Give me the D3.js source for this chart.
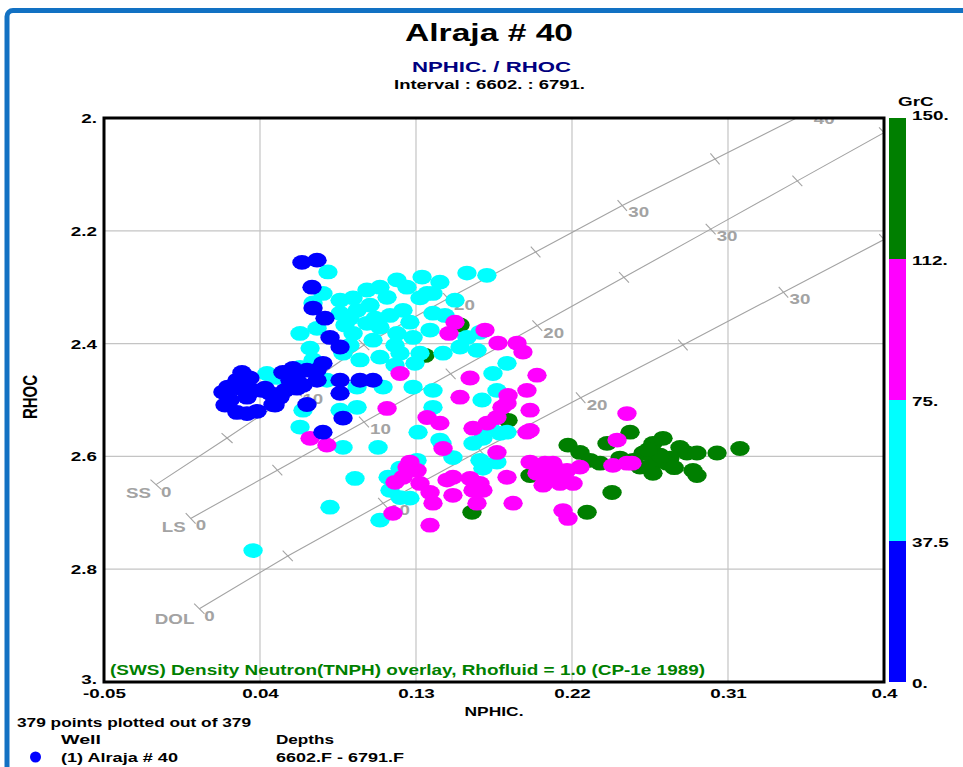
<!DOCTYPE html>
<html>
<head>
<meta charset="utf-8">
<script src="https://cdn.jsdelivr.net/npm/d3@7"></script>
<style>
  body { margin: 0; background: #fff; }
  svg { display: block; }
</style>
</head>
<body>
<svg id="chart" width="963" height="767"></svg>
<script>
// ---- Axis ticks ----
const xTicks = [-0.05, 0.04, 0.13, 0.22, 0.31, 0.4];
const xTickLabels = ["-0.05", "0.04", "0.13", "0.22", "0.31", "0.4"];
const yTicks = [2, 2.2, 2.4, 2.6, 2.8, 3];
const yTickLabels = ["2.", "2.2", "2.4", "2.6", "2.8", "3."];
const grTicks = [0, 37.5, 75, 112.5, 150];
const grTickLabels = ["0.", "37.5", "75.", "112.", "150."];
const grClasses = [[0, 37.5], [37.5, 75], [75, 112.5], [112.5, 150]];

// ---- Lithology overlay (CP-1e): porosity steps, neutron and density per matrix ----
const overlayPor = [0, 5, 10, 15, 20, 25, 30, 35, 40];
const ssNphi  = [-0.02, 0.021, 0.061, 0.100, 0.1485, 0.199, 0.249, 0.3025, 0.356];
const ssRho   = [2.65, 2.5675, 2.485, 2.4025, 2.32, 2.2375, 2.155, 2.0725, 1.99];
const lsNphi  = [0.0, 0.05, 0.10, 0.15, 0.20, 0.25, 0.30, 0.35, 0.40];
const lsRho   = [2.71, 2.6245, 2.539, 2.4535, 2.368, 2.2825, 2.197, 2.1115, 2.026];
const dolNphi = [0.005, 0.056, 0.111, 0.167, 0.225, 0.284, 0.342, 0.400];
const dolRho  = [2.87, 2.7765, 2.683, 2.5895, 2.496, 2.4025, 2.309, 2.2155];

// ---- Samples [NPHIC, RHOC, GrC], grouped by gamma-ray class ----
const ptsHighGr = [
  [0.1554,2.367,121],[0.1352,2.421,118],[0.1831,2.536,124],[0.2177,2.580,130],[0.1623,2.699,119],
  [0.1958,2.634,122],[0.2246,2.593,131],[0.2304,2.607,127],[0.2287,2.699,120],[0.2535,2.557,126],
  [0.2402,2.577,133],[0.2552,2.607,129],[0.2667,2.577,135],[0.2725,2.568,138],[0.2667,2.612,132],
  [0.2667,2.630,128],[0.2823,2.584,140],[0.2863,2.594,137],[0.2921,2.594,134],[0.2765,2.603,139],
  [0.2898,2.625,136],[0.2921,2.634,131],[0.3037,2.594,142],[0.3169,2.586,145],[0.2610,2.594,127],
  [0.2748,2.612,133],[0.2362,2.612,125],[0.2431,2.664,123],[0.2477,2.603,128],[0.2708,2.598,136],
  [0.2592,2.619,130],[0.2640,2.588,134],[0.2790,2.620,137]
];
const ptsMidLowGr = [
  [0.0792,2.273,44],[0.0763,2.311,48],[0.0706,2.328,40],[0.0862,2.323,52],[0.0937,2.319,55],
  [0.1017,2.305,58],[0.1092,2.300,50],[0.1190,2.287,47],[0.1248,2.300,53],[0.1335,2.282,60],
  [0.1438,2.291,62],[0.1594,2.275,57],[0.1709,2.279,64],[0.1133,2.318,49],[0.1225,2.341,55],
  [0.1323,2.319,61],[0.1398,2.311,63],[0.0960,2.341,51],[0.0862,2.346,46],[0.0729,2.373,42],
  [0.0631,2.382,41],[0.0689,2.408,43],[0.0937,2.382,52],[0.1017,2.364,54],[0.1092,2.371,56],
  [0.1190,2.382,58],[0.1283,2.389,60],[0.1381,2.376,62],[0.1398,2.346,65],[0.1594,2.389,68],
  [0.1669,2.380,70],[0.1652,2.412,69],[0.1554,2.406,66],[0.1456,2.417,64],[0.1323,2.417,59],
  [0.1208,2.417,57],[0.1092,2.424,53],[0.0977,2.429,50],[0.0879,2.417,47],[0.0706,2.429,43],
  [0.0631,2.442,40],[0.0440,2.453,39],[0.0498,2.460,41],[0.0786,2.465,45],[0.0960,2.477,49],
  [0.1110,2.477,55],[0.1283,2.477,61],[0.1398,2.483,63],[0.1681,2.500,70],[0.1767,2.483,72],
  [0.0648,2.518,44],[0.0631,2.548,46],[0.0879,2.584,58],[0.1081,2.584,60],[0.0862,2.518,48],
  [0.0960,2.513,51],[0.0948,2.639,62],[0.0804,2.690,66],[0.1092,2.713,68],[0.0360,2.767,55],
  [0.1398,2.513,64],[0.1727,2.548,71],[0.1744,2.453,70],[0.1825,2.435,73],[0.1364,2.311,58],
  [0.1450,2.577,67],[0.1629,2.577,69],[0.1825,2.557,72],[0.1312,2.557,63],[0.1438,2.571,66],
  [0.1513,2.602,70],[0.1686,2.568,71],[0.1669,2.607,72],[0.1767,2.610,73],[0.1686,2.621,74],
  [0.1306,2.607,65],[0.1208,2.621,62],[0.1150,2.660,64],[0.1208,2.673,67],[0.1265,2.674,66],
  [0.1139,2.637,63],[0.1785,2.559,72],[0.0919,2.355,50],[0.1052,2.394,53],[0.1150,2.350,52],
  [0.1265,2.362,56],[0.1035,2.332,54],[0.0890,2.367,49],[0.1179,2.403,57],[0.1064,2.355,53],
  [0.0919,2.403,51],[0.1525,2.323,63],[0.1467,2.350,64],[0.1294,2.435,60],[0.1179,2.438,58]
];
const ptsMidHighGr = [
  [0.1525,2.362,96],[0.1490,2.382,92],[0.1698,2.376,98],[0.1773,2.399,101],[0.1883,2.399,104],
  [0.1917,2.415,99],[0.1612,2.461,88],[0.1998,2.456,103],[0.1940,2.483,97],[0.1831,2.492,95],
  [0.1554,2.495,86],[0.1958,2.518,100],[0.1796,2.513,94],[0.1767,2.531,93],[0.1940,2.557,102],
  [0.1629,2.550,90],[0.1438,2.541,84],[0.1364,2.531,82],[0.1208,2.453,80],[0.1133,2.515,79],
  [0.0689,2.568,78],[0.0786,2.580,81],[0.1710,2.541,91],[0.1825,2.506,96],[0.1456,2.586,87],
  [0.1767,2.593,95],[0.1265,2.610,83],[0.1248,2.619,85],[0.1306,2.625,86],[0.1179,2.646,82],
  [0.1225,2.637,84],[0.1323,2.648,88],[0.1381,2.664,89],[0.1513,2.637,92],[0.1479,2.642,90],
  [0.1612,2.639,94],[0.1669,2.648,97],[0.1629,2.660,93],[0.1686,2.660,96],[0.1825,2.637,99],
  [0.1513,2.669,91],[0.1652,2.683,95],[0.1398,2.683,88],[0.1167,2.701,85],[0.1381,2.722,87],
  [0.1860,2.683,100],[0.2015,2.630,104],[0.2090,2.612,106],[0.2148,2.642,105],[0.2206,2.648,108],
  [0.2056,2.642,103],[0.2148,2.696,101],[0.2177,2.710,99],[0.2517,2.524,107],[0.2460,2.571,109],
  [0.2517,2.612,110],[0.2436,2.616,108],[0.1998,2.630,102],[0.2090,2.637,104],[0.2033,2.651,101],
  [0.2131,2.648,106],[0.2171,2.625,107],[0.2246,2.619,109],[0.2546,2.612,111],[0.1958,2.554,98],
  [0.1958,2.610,103],[0.2044,2.612,105],[0.2113,2.625,106]
];
const ptsLowGr = [
  [0.0296,2.451,28],[0.0267,2.465,24],[0.0186,2.486,22],[0.0285,2.479,26],[0.0360,2.483,25],
  [0.0429,2.479,27],[0.0198,2.509,21],[0.0267,2.522,23],[0.0325,2.524,25],[0.0383,2.520,27],
  [0.0475,2.508,29],[0.0227,2.500,20],[0.0325,2.495,24],[0.0411,2.483,30],[0.0458,2.488,31],
  [0.0544,2.483,32],[0.0613,2.479,33],[0.0590,2.444,30],[0.0671,2.447,31],[0.0729,2.447,29],
  [0.0532,2.451,34],[0.0648,2.474,32],[0.0729,2.465,30],[0.0862,2.465,33],[0.0977,2.465,35],
  [0.1052,2.465,34],[0.0862,2.488,31],[0.0671,2.508,28],[0.0879,2.532,33],[0.0763,2.557,35],
  [0.0642,2.256,26],[0.0729,2.252,27],[0.0700,2.300,30],[0.0706,2.337,32],[0.0775,2.355,34],
  [0.0804,2.389,33],[0.0862,2.406,35],[0.0763,2.435,32],[0.0613,2.465,31],[0.0487,2.509,29],
  [0.0342,2.461,23],[0.0215,2.477,21],[0.0515,2.495,30],[0.0573,2.465,29]
];

// ---- Layout ----
const plot = { left: 104, top: 118, right: 884, bottom: 682 };
const SX = 1.45;          // horizontal widening of label glyphs
const MX = 1.3;           // horizontal widening of markers / overlay ticks
const FONT = "'Liberation Sans', Arial, sans-serif";

const x = d3.scaleLinear().domain([-0.05, 0.4]).range([plot.left, plot.right]);
const y = d3.scaleLinear().domain([2, 3]).range([plot.top, plot.bottom]);
const grBar = d3.scaleLinear().domain([0, 150]).range([plot.bottom, plot.top]);
const grColor = d3.scaleThreshold()
  .domain([37.5, 75, 112.5])
  .range(["#0000ff", "#00ffff", "#ff00ff", "#007f00"]);

const svg = d3.select("#chart");
svg.append("rect").attr("width", 963).attr("height", 767).attr("fill", "#fff");

// Window frame
svg.append("rect")
  .attr("x", 7).attr("y", 10.5).attr("width", 1000).attr("height", 800).attr("rx", 6)
  .attr("fill", "none").attr("stroke", "#1271c3").attr("stroke-width", 5);

function addText(parent, x0, y0, str, size, opts = {}) {
  const t = parent.append("text")
    .attr("x", x0).attr("y", y0)
    .attr("text-anchor", opts.anchor || "start")
    .attr("fill", opts.fill || "#000")
    .style("font-family", FONT).style("font-weight", "bold")
    .style("font-size", size + "px")
    .text(str);
  if (opts.len) t.attr("textLength", opts.len).attr("lengthAdjust", "spacingAndGlyphs");
  return t;
}

// Titles
addText(svg, 405, 41, "Alraja # 40", 23, { len: 168 });
addText(svg, 412, 72, "NPHIC. / RHOC", 15, { len: 159, fill: "#000080" });
addText(svg, 394, 89, "Interval : 6602. : 6791.", 13, { len: 191 });

// Grid
const grid = svg.append("g").attr("stroke", "#c4c4c4").attr("stroke-width", 1.2);
xTicks.slice(1, -1).forEach(v => {
  grid.append("line").attr("x1", x(v)).attr("x2", x(v)).attr("y1", plot.top).attr("y2", plot.bottom);
});
yTicks.slice(1, -1).forEach(v => {
  grid.append("line").attr("x1", plot.left).attr("x2", plot.right).attr("y1", y(v)).attr("y2", y(v));
});

// Lithology overlay lines, clipped to the plot
svg.append("clipPath").attr("id", "plotClip")
  .append("rect").attr("x", plot.left).attr("y", plot.top)
  .attr("width", plot.right - plot.left).attr("height", plot.bottom - plot.top);
const ov = svg.append("g").attr("clip-path", "url(#plotClip)");
const overlays = [
  { name: "SS",  n: ssNphi,  r: ssRho,  nameDy: 13 },
  { name: "LS",  n: lsNphi,  r: lsRho,  nameDy: 14 },
  { name: "DOL", n: dolNphi, r: dolRho, nameDy: 15 }
];
const ovColor = "#a3a3a3";
const ovFont = `bold 15px ${FONT}`;
overlays.forEach(L => {
  const pts = L.n.map((v, i) => [x(v), y(L.r[i])]);
  ov.append("path").attr("d", d3.line()(pts))
    .attr("fill", "none").attr("stroke", ovColor).attr("stroke-width", 1.1);
  pts.forEach((p, i) => {
    const a = pts[Math.max(0, i - 1)], b = pts[Math.min(pts.length - 1, i + 1)];
    let dx = (b[0] - a[0]) / MX, dy = b[1] - a[1];
    const len = Math.hypot(dx, dy); dx /= len; dy /= len;
    const tx = -dy * 6.5 * MX, ty = dx * 6.5;
    ov.append("line")
      .attr("x1", p[0] - tx).attr("y1", p[1] - ty)
      .attr("x2", p[0] + tx).attr("y2", p[1] + ty)
      .attr("stroke", ovColor).attr("stroke-width", 1.1);
    const por = overlayPor[i];
    if (por === 0) {
      ov.append("text").attr("transform", `translate(${p[0] + 5},${p[1] + 12}) scale(1.25,1)`)
        .attr("fill", ovColor).style("font", ovFont).text("0");
      ov.append("text").attr("transform", `translate(${p[0] - 5},${p[1] + L.nameDy}) scale(1.25,1)`)
        .attr("text-anchor", "end")
        .attr("fill", ovColor).style("font", ovFont).text(L.name);
    } else if (por % 10 === 0) {
      ov.append("text").attr("transform", `translate(${p[0] + 6},${p[1] + 12}) scale(1.25,1)`)
        .attr("fill", ovColor).style("font", ovFont).text(String(por));
    }
  });
});

// Samples
const marks = svg.append("g");
[ptsHighGr, ptsMidLowGr, ptsMidHighGr, ptsLowGr].forEach(set => {
  marks.selectAll(null).data(set).enter().append("ellipse")
    .attr("cx", d => x(d[0])).attr("cy", d => y(d[1]))
    .attr("rx", 9.7).attr("ry", 7.4)
    .attr("fill", d => grColor(d[2]));
});

// Caption inside plot
addText(svg, 110, 675, "(SWS) Density Neutron(TNPH) overlay, Rhofluid = 1.0 (CP-1e 1989)", 14,
  { len: 595, fill: "#008000" });

// Plot frame
svg.append("rect")
  .attr("x", plot.left).attr("y", plot.top)
  .attr("width", plot.right - plot.left).attr("height", plot.bottom - plot.top)
  .attr("fill", "none").attr("stroke", "#000").attr("stroke-width", 3);

// X axis
const gx = svg.append("g").attr("transform", `translate(0,${plot.bottom})`)
  .call(d3.axisBottom(x).tickValues(xTicks).tickFormat((d, i) => xTickLabels[i]).tickSize(0));
gx.select(".domain").remove();
gx.selectAll("text")
  .attr("y", 16).attr("dy", 0).attr("transform", `scale(${SX},1)`)
  .attr("fill", "#000")
  .style("font-family", FONT).style("font-weight", "bold").style("font-size", "13px");

// Y axis
const gy = svg.append("g").attr("transform", `translate(${plot.left},0)`)
  .call(d3.axisLeft(y).tickValues(yTicks).tickFormat((d, i) => yTickLabels[i]).tickSize(0));
gy.select(".domain").remove();
gy.selectAll("text")
  .attr("x", -7 / SX).attr("dy", 0).attr("y", d => d === 3 ? 1.5 : 4.5).attr("transform", `scale(${SX},1)`)
  .attr("fill", "#000")
  .style("font-family", FONT).style("font-weight", "bold").style("font-size", "13px");

// Axis titles
svg.append("text")
  .attr("transform", `translate(${(plot.left + plot.right) / 2},716) scale(1.34,1)`)
  .attr("text-anchor", "middle")
  .style("font", `bold 13px ${FONT}`).text("NPHIC.");
svg.append("text")
  .attr("transform", `translate(37,397) scale(1.4,1) rotate(-90)`)
  .attr("text-anchor", "middle")
  .style("font", `bold 15px ${FONT}`).text("RHOC");

// Gamma-ray colour bar
const barX = 889, barW = 17;
svg.append("g").selectAll("rect").data(grClasses).enter().append("rect")
  .attr("x", barX).attr("width", barW)
  .attr("y", d => grBar(d[1])).attr("height", d => grBar(d[0]) - grBar(d[1]))
  .attr("fill", d => grColor((d[0] + d[1]) / 2));
const gc = svg.append("g").attr("transform", `translate(${barX + barW},0)`)
  .call(d3.axisRight(grBar).tickValues(grTicks).tickFormat((d, i) => grTickLabels[i]).tickSize(0));
gc.select(".domain").remove();
gc.selectAll("text")
  .attr("x", 6 / SX).attr("dy", 0).attr("y", d => d === 150 ? 1 : 5).attr("transform", `scale(${SX},1)`)
  .attr("fill", "#000")
  .style("font-family", FONT).style("font-weight", "bold").style("font-size", "13px");
svg.append("text").attr("transform", `translate(898,106) scale(${SX},1)`)
  .style("font", `bold 13px ${FONT}`).text("GrC");

// Footer legend
addText(svg, 17, 727, "379 points plotted out of 379", 13, { len: 234 });
addText(svg, 61, 744, "Well", 13, { len: 40 });
addText(svg, 276, 744, "Depths", 13, { len: 58 });
svg.append("ellipse").attr("cx", 35.5).attr("cy", 757).attr("rx", 5.5).attr("ry", 5.5).attr("fill", grColor(20));
addText(svg, 61, 762, "(1) Alraja # 40", 13, { len: 117 });
addText(svg, 276, 762, "6602.F - 6791.F", 13, { len: 128 });
</script>
</body>
</html>
